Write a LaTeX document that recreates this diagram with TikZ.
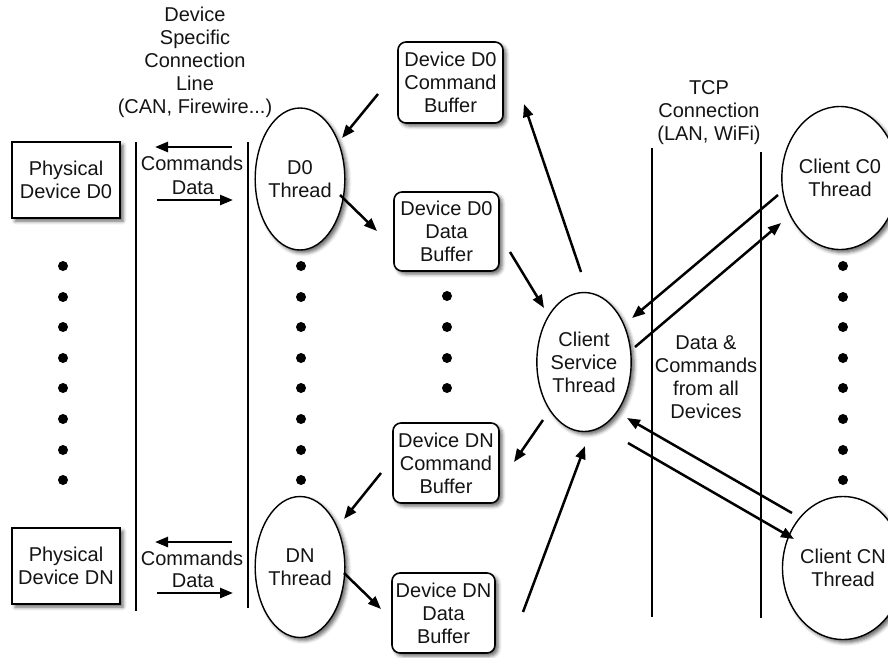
\documentclass[tikz,border=0pt]{standalone}
\usepackage{fontspec}
\setmainfont{Liberation Sans}
\usetikzlibrary{arrows.meta,shapes.geometric,shadows.blur}

\tikzset{
  lbl/.style={font=\fontsize{20}{23}\selectfont, align=center, text=black!92, inner sep=0pt},
  shade3/.style={blur shadow={shadow xshift=3pt, shadow yshift=-3pt, shadow blur radius=3.5pt, shadow opacity=60}},
  physbox/.style={lbl, draw, line width=1.6pt, fill=white, minimum width=108pt, minimum height=76pt, shade3},
  bufbox/.style={lbl, draw, line width=1.6pt, fill=white, rounded corners=8pt, shade3},
  thread/.style={lbl, ellipse, draw, line width=1.4pt, fill=white, inner sep=0pt, shade3},
  wire/.style={line width=2.6pt},
  flow/.style={line width=2.5pt, -{Triangle[length=13pt,width=10pt]}},
  dot/.style={circle, fill=black, inner sep=0pt, minimum size=10pt},
}

\begin{document}
\begin{tikzpicture}[x=1pt, y=-1pt]
\useasboundingbox (0,0) rectangle (888,657);

% ---- physical devices ----
\node[physbox] (pd0) at (66,180) {Physical\\Device D0};
\node[physbox] (pdn) at (66,566) {Physical\\Device DN};

% ---- device specific connection line ----
\node[lbl] (linetitle) at (195,62) {Device\\Specific\\Connection\\Line\\(CAN, Firewire...)};
\draw[wire] (136,142) -- (136,611);
\draw[wire] (248,142) -- (248,608);

% ---- device threads ----
\node[thread, minimum width=64pt, minimum height=142pt] (t0) at (300,179) {D0\\Thread};
\node[thread, minimum width=64pt, minimum height=141pt] (tn) at (300,567) {DN\\Thread};

% ---- buffers ----
\node[bufbox, minimum width=105pt, minimum height=81pt] (cb0) at (450.5,82.5) {Device D0\\Command\\Buffer};
\node[bufbox, minimum width=105pt, minimum height=79pt] (db0) at (446.5,231.5) {Device D0\\Data\\Buffer};
\node[bufbox, minimum width=106pt, minimum height=80pt] (cbn) at (446,463) {Device DN\\Command\\Buffer};
\node[bufbox, minimum width=103pt, minimum height=80pt] (dbn) at (443.5,613) {Device DN\\Data\\Buffer};

% ---- client service thread ----
\node[thread, minimum width=83pt, minimum height=139pt] (cs) at (584,362) {Client\\Service\\Thread};

% ---- TCP connection ----
\node[lbl] (tcptitle) at (709,113) {TCP\\Connection\\(LAN, WiFi)};
\draw[wire] (652,148) -- (652,617);
\draw[wire] (761,152) -- (761,618);
\node[lbl] (tcpnote) at (706,377) {Data \&\\Commands\\from all\\Devices};

% ---- client threads ----
\node[thread, minimum width=96pt, minimum height=143pt] (c0) at (840,178) {Client C0\\Thread};
\node[thread, minimum width=96pt, minimum height=143pt] (cn) at (843,568) {Client CN\\Thread};

% ---- ellipsis dots ----
\foreach \yy [count=\i] in {266,297,327,358,388,419,450,480} {
  \node[dot] (ldot\i) at (63,\yy) {};
  \node[dot] (tdot\i) at (301,\yy) {};
  \node[dot] (cdot\i) at (843,\yy) {};
}
\foreach \yy [count=\i] in {296,327,358,388} {
  \node[dot] (bdot\i) at (447,\yy) {};
}

% ---- commands / data across the device line ----
\coordinate (cmd0a) at (232,147);  \coordinate (cmd0b) at (155,147);
\coordinate (dat0a) at (157,200);  \coordinate (dat0b) at (233,200);
\draw[flow] (cmd0a) -- (cmd0b);
\draw[flow] (dat0a) -- (dat0b);
\node[lbl] (cmd0) at (192,163) {Commands};
\node[lbl] (dat0) at (193,188) {Data};

\coordinate (cmdna) at (232,542);  \coordinate (cmdnb) at (155,542);
\coordinate (datna) at (157,593);  \coordinate (datnb) at (233,593);
\draw[flow] (cmdna) -- (cmdnb);
\draw[flow] (datna) -- (datnb);
\node[lbl] (cmdn) at (192,558) {Commands};
\node[lbl] (datn) at (193,581) {Data};

% ---- buffer flows ----
\coordinate (a1s) at (378,94);   \coordinate (a1e) at (342,138);
\coordinate (a2s) at (340,195);  \coordinate (a2e) at (377,231);
\coordinate (a3s) at (581,272);  \coordinate (a3e) at (524,104);
\coordinate (a4s) at (510,252);  \coordinate (a4e) at (544,308);
\coordinate (a5s) at (543,420);  \coordinate (a5e) at (514,462);
\coordinate (a6s) at (381,473);  \coordinate (a6e) at (344,519);
\coordinate (a7s) at (344,573);  \coordinate (a7e) at (381,609);
\coordinate (a8s) at (523,612);  \coordinate (a8e) at (585,446);
\foreach \k in {1,...,8} { \draw[flow] (a\k s) -- (a\k e); }

% ---- TCP flows ----
\coordinate (b1s) at (778,195);  \coordinate (b1e) at (632,318);
\coordinate (b2s) at (635,347);  \coordinate (b2e) at (781,223);
\coordinate (b3s) at (792,513);  \coordinate (b3e) at (627,418);
\coordinate (b4s) at (628,443);  \coordinate (b4e) at (794,539);
\foreach \k in {1,...,4} { \draw[flow] (b\k s) -- (b\k e); }
\end{tikzpicture}
\end{document}
